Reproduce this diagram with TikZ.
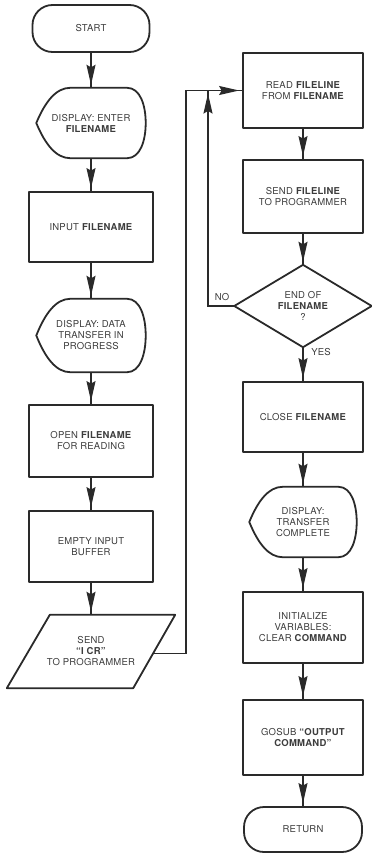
\documentclass[tikz,border=0pt]{standalone}
\usepackage{fontspec}
\setmainfont{TeX Gyre Heros}[LetterSpace=2.5]
\usetikzlibrary{arrows.meta,decorations.markings,calc}
\definecolor{ink}{HTML}{2A2A2A}
\definecolor{txt}{HTML}{3C3C3C}
\newcommand\tf{\fontsize{9.5}{11}\selectfont}
\tikzset{
  shapeline/.style={draw=ink, line width=1.8pt, line join=round},
  base/.style={inner sep=0pt, align=center, font=\tf, text=txt},
  lbox/.style={base, shapeline, rectangle, minimum width=124pt},
  rbox/.style={base, shapeline, rectangle, minimum width=120pt},
  term/.style={base, shapeline, rectangle, rounded corners=20pt},
  ghost/.style={base, rectangle},
  conn/.style={draw=ink, line width=1.3pt},
  arr/.style={postaction={decorate, decoration={markings,
      mark=at position -3pt with {\arrow{Stealth[length=20pt,width=9pt,inset=2.5pt]}}}}}
}
\newcommand\dispshape[1]{%
\draw[shapeline] let \p1=(#1.north west), \p2=(#1.south east), \n1={\x2-\x1}, \n2={\y1-\y2} in
 (\x1,{0.5*\y1+0.5*\y2})
 .. controls ({\x1+0.08*\n1},{\y1-0.2*\n2}) and ({\x1+0.18*\n1},\y1) .. ({\x1+0.31*\n1},\y1)
 -- ({\x2-0.17*\n1},\y1)
 .. controls ({\x2-0.05*\n1},\y1) and (\x2,{\y1-0.25*\n2}) .. (\x2,{0.5*\y1+0.5*\y2})
 .. controls (\x2,{\y2+0.25*\n2}) and ({\x2-0.05*\n1},\y2) .. ({\x2-0.17*\n1},\y2)
 -- ({\x1+0.31*\n1},\y2)
 .. controls ({\x1+0.18*\n1},\y2) and ({\x1+0.08*\n1},{\y2+0.2*\n2}) .. (\x1,{0.5*\y1+0.5*\y2})
 -- cycle;}
\begin{document}
\begin{tikzpicture}[x=1pt,y=-1pt]
\useasboundingbox (0,0) rectangle (372,854);
% left column
\node[term,minimum width=117pt,minimum height=47pt] (start) at (91,28.5) {START};
\node[ghost,minimum width=109pt,minimum height=70pt] (d1) at (91,123) {DISPLAY: ENTER\\\textbf{FILENAME}};
\dispshape{d1}
\node[lbox,minimum height=70pt] (inp) at (91,227) {INPUT \textbf{FILENAME}};
\node[ghost,minimum width=109pt,minimum height=73pt] (d2) at (91,335.5) {DISPLAY: DATA\\TRANSFER IN\\PROGRESS};
\dispshape{d2}
\node[lbox,minimum height=72pt] (open) at (91,441) {OPEN \textbf{FILENAME}\\FOR READING};
\node[lbox,minimum height=71pt] (empty) at (91,546.5) {EMPTY INPUT\\BUFFER};
\node[ghost,minimum width=126pt,minimum height=73pt] (send) at (91,651.5) {SEND\\\textbf{``I CR''}\\TO PROGRAMMER};
\draw[shapeline] ($(send.north west)+(22pt,0)$) coordinate (ptl)
  -- ($(send.north east)+(21pt,0)$) coordinate (ptr)
  -- ($(send.south east)+(-21pt,0)$) coordinate (pbr)
  -- ($(send.south west)+(-21pt,0)$) coordinate (pbl) -- cycle;
% right column
\node[rbox,minimum height=75pt] (read) at (303,90.5) {READ \textbf{FILELINE}\\FROM \textbf{FILENAME}};
\node[rbox,minimum height=73pt] (sendf) at (303,196.5) {SEND \textbf{FILELINE}\\TO PROGRAMMER};
\node[ghost,minimum width=137pt,minimum height=82pt] (dia) at (303,306) {END OF\\\textbf{FILENAME}\\?};
\draw[shapeline] (dia.north) -- (dia.east) -- (dia.south) -- (dia.west) -- cycle;
\node[rbox,minimum height=70pt] (close) at (303,417) {CLOSE \textbf{FILENAME}};
\node[ghost,minimum width=107pt,minimum height=70pt] (d3) at (303,522) {DISPLAY:\\TRANSFER\\COMPLETE};
\dispshape{d3}
\node[rbox,minimum height=71pt] (init) at (303,627.5) {INITIALIZE\\VARIABLES:\\CLEAR \textbf{COMMAND}};
\node[rbox,minimum height=75pt] (gosub) at (303,737.5) {GOSUB \textbf{``OUTPUT}\\\textbf{COMMAND''}};
\node[term,minimum width=118pt,minimum height=45pt] (ret) at (303,829.5) {RETURN};
\node[base] (no) at (222,297) {NO};
\node[base] (yes) at (321,352) {YES};
% connectors
\draw[conn,arr] (start.south) -- (d1.north);
\draw[conn,arr] (d1.south) -- (inp.north);
\draw[conn,arr] (inp.south) -- (d2.north);
\draw[conn,arr] (d2.south) -- (open.north);
\draw[conn,arr] (open.south) -- (empty.north);
\draw[conn,arr] (empty.south) -- (send.north);
\coordinate (pe) at ($(ptr)!0.53!(pbr)$);
\coordinate (rx) at (186,0);
\draw[conn,arr] (pe) -| (rx |- read.west) -- (read.west);
\draw[conn,arr] (read.south) -- (sendf.north);
\draw[conn,arr] (sendf.south) -- (dia.north);
\coordinate (fx) at (208,0);
\draw[conn,arr] (dia.west) -| (fx |- read.west);
\draw[conn,arr] (dia.south) -- (close.north);
\draw[conn,arr] (close.south) -- (d3.north);
\draw[conn,arr] (d3.south) -- (init.north);
\draw[conn,arr] (init.south) -- (gosub.north);
\draw[conn,arr] (gosub.south) -- (ret.north);
\end{tikzpicture}
\end{document}
